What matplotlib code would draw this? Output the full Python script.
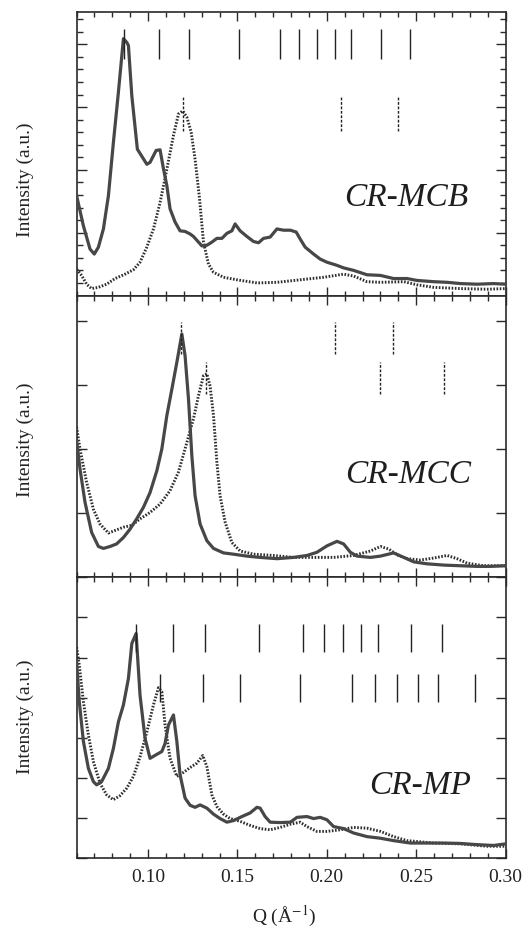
import matplotlib
matplotlib.use("Agg")
import matplotlib.pyplot as plt
from matplotlib.ticker import MultipleLocator, FixedLocator

plt.rcParams['font.family'] = ['Liberation Serif', 'DejaVu Serif']
plt.rcParams['mathtext.fontset'] = 'stix'

# ---------------- data ----------------
# CR-MCB (top panel)
mcb_solid_q = [0.0600, 0.0638, 0.0675, 0.0699, 0.0722, 0.0750, 0.0778, 0.0806, 0.0834, 0.0862,
               0.0881, 0.0890, 0.0909, 0.0940, 0.0993, 0.1011, 0.1045, 0.1067, 0.1086, 0.1105,
               0.1123, 0.1151, 0.1179, 0.1207, 0.1235, 0.1254, 0.1301, 0.1329, 0.1357, 0.1385,
               0.1413, 0.1441, 0.1469, 0.1487, 0.1515, 0.1553, 0.1590, 0.1618, 0.1646, 0.1683,
               0.1721, 0.1758, 0.1796, 0.1829, 0.1851, 0.1879, 0.1926, 0.1963, 0.2001, 0.2057,
               0.2094, 0.2150, 0.2225, 0.2300, 0.2374, 0.2449, 0.2505, 0.2598, 0.2673, 0.2748,
               0.2841, 0.2934, 0.3000]
mcb_solid_i = [1.59, 1.11, 0.74, 0.66, 0.77, 1.06, 1.59, 2.44, 3.24, 4.09,
               4.03, 3.98, 3.18, 2.33, 2.09, 2.12, 2.31, 2.32, 2.02, 1.75,
               1.38, 1.17, 1.03, 1.02, 0.98, 0.94, 0.79, 0.80, 0.85, 0.91,
               0.91, 0.99, 1.03, 1.14, 1.03, 0.94, 0.86, 0.84, 0.91, 0.93,
               1.06, 1.04, 1.04, 1.01, 0.90, 0.77, 0.66, 0.58, 0.53, 0.48,
               0.44, 0.40, 0.33, 0.32, 0.27, 0.27, 0.24, 0.22, 0.21, 0.19,
               0.18, 0.19, 0.18]
mcb_dot_q = [0.0600, 0.0628, 0.0656, 0.0684, 0.0722, 0.0768, 0.0815, 0.0871, 0.0918, 0.0955,
             0.0993, 0.1030, 0.1067, 0.1105, 0.1142, 0.1170, 0.1194, 0.1217, 0.1241, 0.1263,
             0.1288, 0.1310, 0.1338, 0.1366, 0.1422, 0.1497, 0.1609, 0.1721, 0.1851, 0.1982,
             0.2094, 0.2150, 0.2225, 0.2300, 0.2431, 0.2505, 0.2598, 0.2748, 0.2897, 0.3000]
mcb_dot_i = [0.42, 0.32, 0.18, 0.11, 0.13, 0.18, 0.27, 0.34, 0.41, 0.53,
             0.77, 1.06, 1.48, 2.01, 2.55, 2.89, 2.94, 2.84, 2.60, 2.17,
             1.54, 0.85, 0.50, 0.37, 0.29, 0.25, 0.20, 0.21, 0.25, 0.29,
             0.34, 0.31, 0.22, 0.21, 0.22, 0.17, 0.13, 0.11, 0.10, 0.11]
mcb_refl_solid = [0.0867, 0.1063, 0.1230, 0.1510, 0.1740, 0.1846, 0.1947, 0.2044, 0.2135, 0.2305, 0.2464]
mcb_refl_dot = [0.1198, 0.2081, 0.2399]

# CR-MCC (middle panel)
mcc_solid_q = [0.0600, 0.0619, 0.0647, 0.0684, 0.0722, 0.0750, 0.0787, 0.0824, 0.0862, 0.0899,
               0.0936, 0.0974, 0.1011, 0.1049, 0.1077, 0.1105, 0.1133, 0.1161, 0.1189, 0.1207,
               0.1226, 0.1245, 0.1263, 0.1291, 0.1329, 0.1366, 0.1422, 0.1478, 0.1553, 0.1627,
               0.1721, 0.1814, 0.1889, 0.1945, 0.2001, 0.2057, 0.2094, 0.2132, 0.2169, 0.2244,
               0.2300, 0.2374, 0.2431, 0.2487, 0.2561, 0.2655, 0.2748, 0.2841, 0.2916, 0.3000]
mcc_solid_i = [2.13, 1.69, 1.17, 0.70, 0.48, 0.45, 0.48, 0.52, 0.62, 0.75,
               0.91, 1.09, 1.32, 1.66, 2.00, 2.52, 2.93, 3.35, 3.79, 3.45,
               2.78, 1.89, 1.27, 0.83, 0.57, 0.45, 0.38, 0.36, 0.33, 0.31,
               0.29, 0.31, 0.34, 0.39, 0.49, 0.56, 0.52, 0.39, 0.33, 0.31,
               0.33, 0.38, 0.31, 0.24, 0.21, 0.19, 0.18, 0.17, 0.17, 0.18]
mcc_dot_q = [0.0600, 0.0619, 0.0656, 0.0694, 0.0731, 0.0778, 0.0815, 0.0862, 0.0909, 0.0955,
             0.1011, 0.1067, 0.1123, 0.1170, 0.1217, 0.1254, 0.1282, 0.1310, 0.1329, 0.1347,
             0.1366, 0.1385, 0.1403, 0.1431, 0.1469, 0.1515, 0.1590, 0.1702, 0.1814, 0.1926,
             0.2038, 0.2150, 0.2244, 0.2300, 0.2347, 0.2393, 0.2449, 0.2524, 0.2598, 0.2673,
             0.2729, 0.2785, 0.2878, 0.3000]
mcc_dot_i = [2.34, 2.00, 1.48, 1.06, 0.83, 0.69, 0.73, 0.78, 0.81, 0.91,
             1.01, 1.14, 1.35, 1.64, 2.10, 2.47, 2.83, 3.14, 3.17, 2.98,
             2.52, 1.79, 1.27, 0.86, 0.54, 0.41, 0.36, 0.34, 0.31, 0.31,
             0.31, 0.34, 0.41, 0.48, 0.44, 0.35, 0.29, 0.27, 0.30, 0.34,
             0.29, 0.22, 0.18, 0.18]
mcc_refl_dot_a = [0.1185, 0.2048, 0.2371]
mcc_refl_dot_b = [0.1323, 0.2300, 0.2654]

# CR-MP (bottom panel)
mp_solid_q = [0.0600, 0.0615, 0.0638, 0.0666, 0.0694, 0.0712, 0.0740, 0.0778, 0.0806, 0.0834,
              0.0862, 0.0890, 0.0909, 0.0933, 0.0955, 0.0983, 0.1011, 0.1049, 0.1077, 0.1095,
              0.1114, 0.1142, 0.1161, 0.1179, 0.1207, 0.1235, 0.1263, 0.1291, 0.1329, 0.1366,
              0.1403, 0.1441, 0.1478, 0.1525, 0.1571, 0.1609, 0.1627, 0.1655, 0.1683, 0.1739,
              0.1796, 0.1833, 0.1889, 0.1926, 0.1963, 0.2001, 0.2038, 0.2094, 0.2150, 0.2225,
              0.2300, 0.2374, 0.2468, 0.2561, 0.2655, 0.2748, 0.2841, 0.2934, 0.3000]
mp_solid_i = [4.89, 3.90, 2.91, 2.24, 1.91, 1.83, 1.91, 2.24, 2.74, 3.40,
              3.82, 4.48, 5.35, 5.60, 4.06, 2.99, 2.49, 2.59, 2.66, 2.86,
              3.32, 3.57, 2.91, 2.08, 1.50, 1.32, 1.27, 1.33, 1.25, 1.10,
              0.99, 0.90, 0.94, 1.04, 1.13, 1.27, 1.25, 1.04, 0.90, 0.89,
              0.90, 1.02, 1.04, 0.99, 1.02, 0.96, 0.79, 0.74, 0.63, 0.54,
              0.50, 0.44, 0.38, 0.38, 0.38, 0.37, 0.34, 0.32, 0.36]
mp_dot_q = [0.0600, 0.0615, 0.0638, 0.0666, 0.0694, 0.0731, 0.0768, 0.0806, 0.0843, 0.0881,
            0.0918, 0.0955, 0.0993, 0.1030, 0.1058, 0.1077, 0.1095, 0.1123, 0.1161, 0.1198,
            0.1235, 0.1273, 0.1306, 0.1329, 0.1357, 0.1385, 0.1422, 0.1459, 0.1515, 0.1571,
            0.1627, 0.1683, 0.1739, 0.1796, 0.1851, 0.1889, 0.1945, 0.2001, 0.2075, 0.2150,
            0.2225, 0.2300, 0.2374, 0.2449, 0.2524, 0.2598, 0.2748, 0.2897, 0.3000]
mp_dot_i = [5.26, 4.81, 3.90, 3.07, 2.41, 1.87, 1.58, 1.46, 1.56, 1.75,
            2.04, 2.53, 3.15, 3.82, 4.25, 4.15, 3.32, 2.49, 2.04, 2.14,
            2.26, 2.37, 2.56, 2.28, 1.58, 1.29, 1.10, 0.99, 0.92, 0.82,
            0.74, 0.71, 0.77, 0.85, 0.90, 0.79, 0.67, 0.67, 0.71, 0.77,
            0.75, 0.67, 0.54, 0.44, 0.41, 0.38, 0.36, 0.30, 0.30]
mp_refl_a = [0.0933, 0.1142, 0.1318, 0.1618, 0.1867, 0.1982, 0.2089, 0.2192, 0.2287, 0.2472, 0.2642]
mp_refl_b = [0.1067, 0.1310, 0.1512, 0.1852, 0.2139, 0.2270, 0.2393, 0.2509, 0.2623, 0.2832]

panel_names = ['CR-MCB', 'CR-MCC', 'CR-MP']
x_ticks = [0.10, 0.15, 0.20, 0.25, 0.30]
x_tick_labels = ['0.10', '0.15', '0.20', '0.25', '0.30']
y_label = 'Intensity (a.u.)'
x_label = r'Q (Å$^{-1}$)'

# ---------------- figure ----------------
W, H = 526, 928
fig = plt.figure(figsize=(W / 100, H / 100), dpi=100)

left = 76.6 / W
width = (505.5 - 76.6) / W
def ax_at(top_px, bot_px):
    return fig.add_axes([left, (H - bot_px) / H, width, (bot_px - top_px) / H])

ax1 = ax_at(13.3, 296.5)
ax2 = ax_at(296.5, 578.3)
ax3 = ax_at(578.3, 859.3)

solid_c = '#474747'
dot_c = '#2e2e2e'
spine_c = '#2a2a2a'
solid_kw = dict(color=solid_c, lw=2.3, solid_joinstyle='round', zorder=3)
dot_kw = dict(color=dot_c, lw=2.1, linestyle=(0, (0.55, 0.55)), zorder=2)

for ax in (ax1, ax2, ax3):
    ax.set_xlim(0.06, 0.30)
    ax.xaxis.set_major_locator(FixedLocator(x_ticks))
    ax.xaxis.set_minor_locator(MultipleLocator(0.01))
    ax.tick_params(axis='x', which='major', direction='in', length=6.5, width=1.0,
                   top=True, bottom=True, color=spine_c)
    ax.tick_params(axis='x', which='minor', direction='in', length=3.8, width=1.0,
                   top=True, bottom=True, color=spine_c)
    ax.tick_params(axis='y', which='major', direction='in', length=7.5, width=1.0,
                   left=True, right=True, labelleft=False, color=spine_c)
    ax.tick_params(axis='y', which='minor', direction='in', length=4.0, width=1.0,
                   left=True, right=True, color=spine_c)
    for s in ax.spines.values():
        s.set_linewidth(1.2)
        s.set_color(spine_c)

# top panel
ax1.plot(mcb_dot_q, mcb_dot_i, **dot_kw)
ax1.plot(mcb_solid_q, mcb_solid_i, **solid_kw)
ax1.vlines(mcb_refl_solid, 3.77, 4.24, color='#222222', lw=1.0, zorder=4)
ax1.vlines(mcb_refl_dot, 2.62, 3.16, color='#222222', lw=1.0, linestyle=(0, (2, 1.2)), zorder=4)
ax1.set_ylim(0, 4.51)
ax1.yaxis.set_major_locator(MultipleLocator(1))
ax1.yaxis.set_minor_locator(MultipleLocator(0.2))

# middle panel
ax2.plot(mcc_dot_q, mcc_dot_i, **dot_kw)
ax2.plot(mcc_solid_q, mcc_solid_i, **solid_kw)
ax2.vlines(mcc_refl_dot_a, 3.48, 3.98, color='#222222', lw=1.0, linestyle=(0, (2, 1.2)), zorder=4)
ax2.vlines(mcc_refl_dot_b, 2.86, 3.35, color='#222222', lw=1.0, linestyle=(0, (2, 1.2)), zorder=4)
ax2.set_ylim(0, 4.39)
ax2.yaxis.set_major_locator(MultipleLocator(1))

# bottom panel
ax3.plot(mp_dot_q, mp_dot_i, **dot_kw)
ax3.plot(mp_solid_q, mp_solid_i, **solid_kw)
ax3.vlines(mp_refl_a, 5.14, 5.84, color='#222222', lw=1.0, zorder=4)
ax3.vlines(mp_refl_b, 3.90, 4.60, color='#222222', lw=1.0, zorder=4)
ax3.set_ylim(0, 7.0)
ax3.yaxis.set_major_locator(MultipleLocator(1))

for ax in (ax1, ax2):
    ax.tick_params(axis='x', labelbottom=False)
ax3.set_xticklabels(x_tick_labels)
ax3.tick_params(axis='x', which='major', labelsize=14, pad=7, labelcolor='#222222')

label_pos = [(ax1, 0.2445, 1.58), (ax2, 0.2456, 1.61), (ax3, 0.2522, 1.84)]
for (ax, qx, iy), name in zip(label_pos, panel_names):
    ax.text(qx, iy, name, fontsize=24, style='italic', ha='center', va='center',
            color='#1e1e1e')

# y labels (one per panel)
for y_px in (180, 440, 717):
    fig.text(25 / W, 1 - y_px / H, y_label, rotation=90, fontsize=14,
             ha='center', va='center', color='#222222')

fig.text(0.54, 0.006, x_label, fontsize=14, ha='center', va='baseline', color='#222222')

fig.savefig('out.png', dpi=100)
